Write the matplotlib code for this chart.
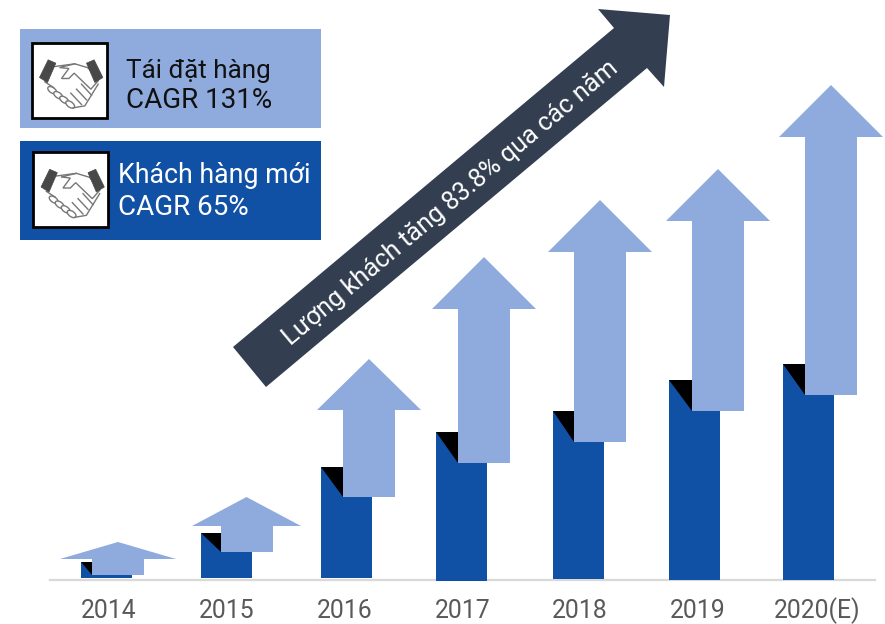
import numpy as np
import matplotlib
matplotlib.use("Agg")
import matplotlib.pyplot as plt
from matplotlib.patches import Ellipse, Polygon, Rectangle

plt.rcParams["font.family"] = ["Roboto", "DejaVu Sans"]

years = ["2014", "2015", "2016", "2017", "2018", "2019", "2020(E)"]
year_x = [109, 227, 345, 463, 580, 698, 817]

bar_left = [81, 201, 321, 436, 553, 669, 783]
bar_top = [562, 533, 467, 432, 411, 380, 364]
bar_bottom = [578, 578, 578, 581, 579, 580, 580]
bar_width = 51

shaft_left = [92, 221, 343, 458, 574, 692, 805]
shaft_right = [144, 273, 395, 510, 626, 744, 857]
shaft_bottom = [575, 552, 497, 463, 442, 411, 395]
head_left = [60, 192, 317, 432, 548, 666, 779]
head_right = [176, 301, 421, 536, 652, 770, 883]
head_base = [559, 526, 410, 309, 252, 221, 137]
head_tip = [542, 497, 359, 257, 200, 169, 85]

big_arrow_x = [233, 614, 598, 670, 664, 647, 266]
big_arrow_y = [347, 28, 9, 15, 87, 68, 387]

BLUE = "#1051A6"
LIGHT = "#8FAADC"
DARK = "#333F50"
GREY = "#595959"


def handshake(ax, x0, y0):
    # small line icon, local units are 1/3 px from the frame corner
    def P(pts):
        return [(x0 + a / 3, y0 + b / 3) for a, b in pts]

    line = "#777777"
    outline = dict(edgecolor=line, lw=1.0, zorder=6)
    # fingers along the lower left
    for a, b in [(62, 143), (80, 158), (98, 172), (116, 186)]:
        ax.add_patch(Ellipse((x0 + a / 3, y0 + b / 3), 10, 5.5, angle=35,
                             facecolor="white", **outline))
    # lower hand, then upper hand with the thumb
    ax.plot(*zip(*P([(40, 118), (66, 135)])), color=line, lw=1.0, zorder=6)
    ax.plot(*zip(*P([(125, 196), (160, 190), (200, 125)])), color=line, lw=1.0, zorder=6)
    ax.add_patch(Polygon(P([(84, 75), (130, 64), (170, 76), (200, 115), (178, 140),
                            (128, 92), (112, 108), (90, 108), (112, 78)]),
                         facecolor="white", **outline))
    for pts in [[(70, 72), (130, 64)], [(170, 76), (182, 70)],
                [(150, 125), (180, 158)], [(135, 140), (165, 172)], [(118, 152), (150, 186)]]:
        ax.plot(*zip(*P(pts)), color=line, lw=1.0, zorder=6)
    # dark cuffs
    for pts in [[(50, 52), (73, 62), (48, 120), (24, 105)],
                [(165, 62), (188, 52), (214, 105), (190, 120)]]:
        ax.add_patch(Polygon(P(pts), facecolor="#484848", edgecolor="#484848", lw=0.5, zorder=7))


fig = plt.figure(figsize=(8.85, 6.24), dpi=100)
ax = fig.add_axes([0, 0, 1, 1])
ax.set_xlim(0, 885)
ax.set_ylim(624, 0)
ax.axis("off")

ax.plot([50, 875], [579.5, 579.5], color="#D9D9D9", lw=1.6, zorder=1)

heights = np.array(bar_bottom) - np.array(bar_top)
ax.bar(np.array(bar_left) + bar_width / 2, heights, width=bar_width, bottom=bar_top,
       color=BLUE, lw=0, zorder=2)

for i in range(len(years)):
    ax.add_patch(Polygon([(bar_left[i], bar_top[i]), (shaft_left[i], bar_top[i]),
                          (shaft_left[i], shaft_bottom[i])],
                         facecolor="black", lw=0, zorder=3))
    tip_x = (head_left[i] + head_right[i]) / 2
    ax.add_patch(Polygon([(shaft_left[i], shaft_bottom[i]), (shaft_right[i], shaft_bottom[i]),
                          (shaft_right[i], head_base[i]), (head_right[i], head_base[i]),
                          (tip_x, head_tip[i]), (head_left[i], head_base[i]),
                          (shaft_left[i], head_base[i])],
                         facecolor=LIGHT, lw=0, zorder=4))
    ax.text(year_x[i], 618, years[i], ha="center", va="baseline", fontsize=17.8, color=GREY)

ax.add_patch(Polygon(list(zip(big_arrow_x, big_arrow_y)), facecolor=DARK, lw=0, zorder=5))
ax.text(451, 203, "Lượng khách tăng 83.8% qua các năm", rotation=40, rotation_mode="anchor",
        ha="center", va="center", fontsize=18.3, color="white", zorder=6)

# legend boxes
ax.add_patch(Rectangle((20, 29), 301, 99, facecolor=LIGHT, lw=0, zorder=1))
ax.add_patch(Rectangle((20, 141), 301, 99, facecolor=BLUE, lw=0, zorder=1))
for fx, fy in [(31.5, 42.5), (33, 152)]:
    ax.add_patch(Rectangle((fx, fy), 75, 75, facecolor="white", edgecolor="black", lw=2, zorder=5))
    handshake(ax, fx, fy)

ax.text(126, 78, "Tái đặt hàng", fontsize=18.8, color="#111111", va="baseline")
ax.text(126, 108, "CAGR 131%", fontsize=20, color="#111111", va="baseline")
ax.text(118, 183, "Khách hàng mới", fontsize=19.3, color="white", va="baseline")
ax.text(118, 215, "CAGR 65%", fontsize=20, color="white", va="baseline")

fig.savefig("out.png", dpi=100)
